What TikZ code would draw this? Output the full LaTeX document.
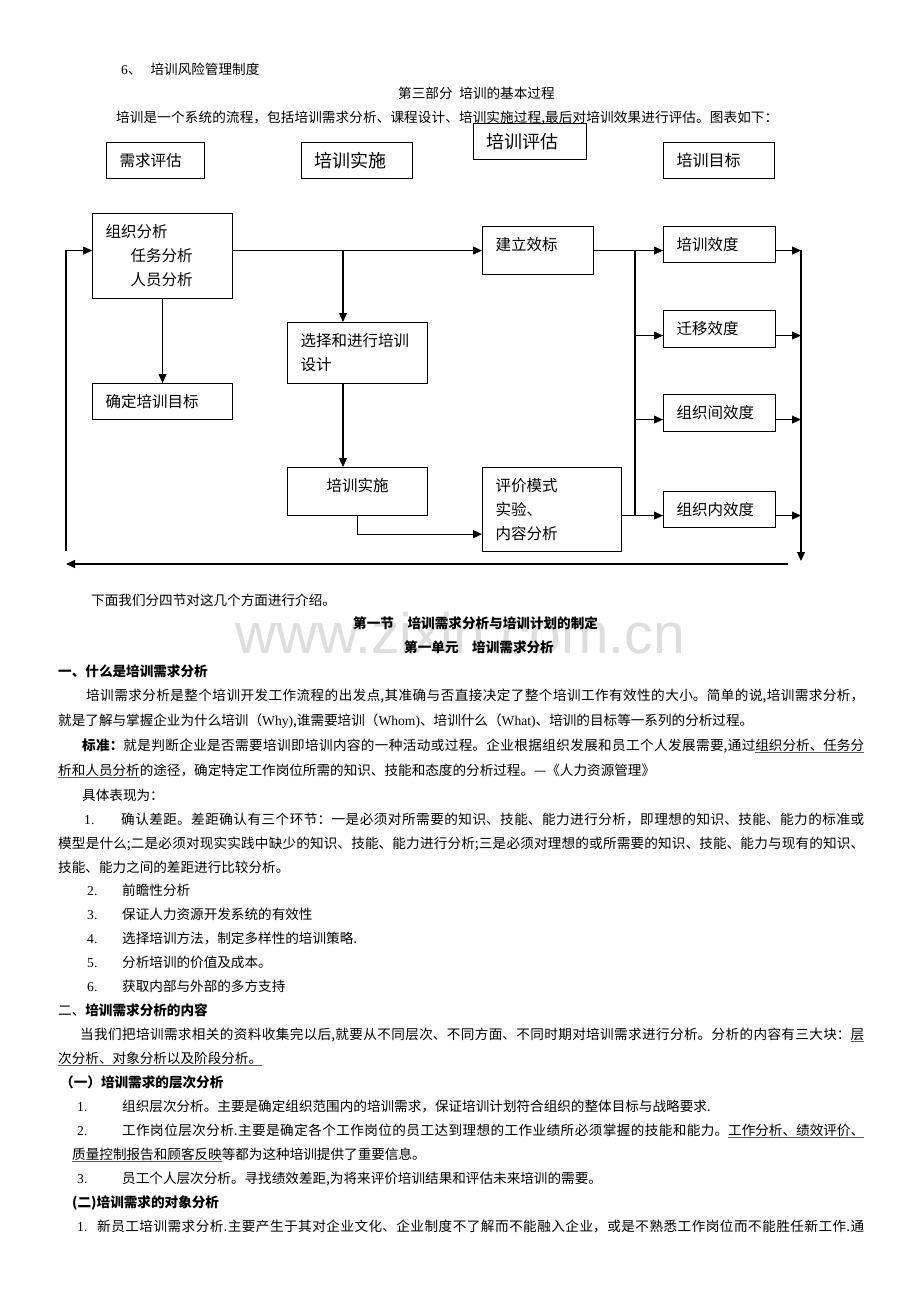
\documentclass[tikz,border=0pt]{standalone}
\usepackage{fontspec}
\setmainfont{Noto Sans CJK SC}
\newfontfamily\latfont{Liberation Serif}
\newfontfamily\wmfont{Liberation Sans}
\usetikzlibrary{arrows.meta}
\XeTeXlinebreaklocale "zh"
\XeTeXlinebreakskip=0pt plus 3pt minus 0.5pt
\definecolor{ulgray}{gray}{0.35}
\newsavebox\ulbox
\newcommand\ulin[1]{\sbox\ulbox{#1}\rlap{\color{ulgray}\rule[-2.5pt]{\wd\ulbox}{0.8pt}}\usebox\ulbox}
\newcommand\lat[1]{{\latfont #1}}
\newcommand\itemno[2]{\makebox[#1][l]{\latfont #2}}
\newcommand\jl[1]{\parfillskip=0pt\noindent #1\par}
\newcommand\bodyfont{\fontsize{13.6pt}{16pt}\selectfont}
\newcommand\boxfont{\fontsize{15.5pt}{24pt}\selectfont}
\tikzset{
  ln/.style={anchor=west, inner sep=0pt, text height=11pt, text depth=1pt, font=\bodyfont},
  full/.style={ln, text width=#1, align=justify},
  hd/.style={ln, font=\bodyfont\bfseries},
  box/.style={draw, line width=1.1pt, anchor=north west, inner xsep=13pt, inner ysep=0pt, align=left, font=\boxfont},
  arr/.style={line width=1.1pt, -{Triangle[length=9pt, width=8pt]}},
  line/.style={line width=1.1pt},
}
\begin{document}
\begin{tikzpicture}[x=1pt,y=-1pt]
  \fill[white] (0,0) rectangle (920,1302);
  \useasboundingbox (0,0) rectangle (920,1302);
  % watermark
  \node[text=black!13, font=\wmfont\fontsize{57pt}{57pt}\selectfont, inner sep=0pt] (wm) at (460,633) {www.zixin.com.cn};
  % text above the chart
  \node[ln] (t6) at (121,69) {\lat{6}、\hspace{9pt}培训风险管理制度};
  \node[ln] (part3) at (398,93) {第三部分\hspace{0.5em}培训的基本过程};
  \node[full=662pt] (intro) at (116,117) {\jl{培训是一个系统的流程，包括培训需求分析、课程设计、培训实施过程,最后对培训效果进行评估。图表如下：}};
  % header boxes
  \node[box, minimum width=98pt, minimum height=36pt, text width=72pt] (needs) at (106,142) {需求评估};
  \node[box, minimum width=111pt, minimum height=36pt, text width=85pt, font=\fontsize{18pt}{22pt}\selectfont] (implhd) at (301,142) {培训实施};
  \node[box, minimum width=113pt, minimum height=36pt, text width=87pt, font=\fontsize{18pt}{22pt}\selectfont] (evalhd) at (473,123) {培训评估};
  \node[box, minimum width=111pt, minimum height=36pt, text width=85pt, font=\fontsize{16pt}{20pt}\selectfont] (goalhd) at (663,142) {培训目标};
  % chart boxes
  \node[box, minimum width=140pt, minimum height=85pt, text width=114pt] (org) at (92,213) {组织分析\\\hspace*{25pt}任务分析\\\hspace*{25pt}人员分析};
  \node[box, minimum width=140pt, minimum height=36pt, text width=114pt] (goal) at (92,383) {确定培训目标};
  \node[box, minimum width=140pt, minimum height=61pt, text width=114pt] (design) at (287,322) {选择和进行培训\\设计};
  \node[box, minimum width=140pt, minimum height=48pt, text width=114pt, align=center] (impl) at (287,467) {\raisebox{6pt}[\height][\depth]{培训实施}};
  \node[box, minimum width=139pt, minimum height=84pt, text width=113pt] (eval) at (482,467) {评价模式\\实验、\\内容分析};
  \node[box, minimum width=111pt, minimum height=48pt, text width=85pt] (std) at (482,226) {\raisebox{6pt}[\height][\depth]{建立效标}};
  \node[box, minimum width=112pt, minimum height=36pt, text width=86pt] (eff1) at (663,226) {培训效度};
  \node[box, minimum width=112pt, minimum height=37pt, text width=86pt] (eff2) at (663,310) {迁移效度};
  \node[box, minimum width=112pt, minimum height=37pt, text width=86pt] (eff3) at (663,394) {组织间效度};
  \node[box, minimum width=112pt, minimum height=36pt, text width=86pt] (eff4) at (663,491) {组织内效度};
  % connectors
  \coordinate (br) at (343,250);
  \coordinate (bus) at (635,250);
  \coordinate (rbus) at (801,250);
  \coordinate (rend) at (801,561);
  \coordinate (backR) at (788,564);
  \coordinate (backL) at (66,564);
  \coordinate (loopB) at (66,551);
  \coordinate (r1) at ([yshift=-6pt]eff1.west);
  \coordinate (r2) at ([yshift=-6.5pt]eff2.west);
  \coordinate (r3) at ([yshift=-6.5pt]eff3.west);
  \coordinate (r4) at ([yshift=-6pt]eff4.west);
  \draw[arr] (org.east |- std.west) -- (std.west);
  \draw[arr] (br) -- (br |- design.north);
  \draw[arr] (org.south) -- (goal.north);
  \draw[arr] (br |- design.south) -- (br |- impl.north);
  \draw[arr] (impl.south) |- ([yshift=18pt]eval.south west);
  \draw[arr] (std.east) -- (std.east -| eff1.west);
  \draw[line] (bus) -- (bus |- r4);
  \draw[arr] (bus |- r2) -- (r2);
  \draw[arr] (bus |- r3) -- (r3);
  \draw[arr] (eval.east |- r4) -- (r4);
  \foreach \i in {1,...,4}
    \draw[arr] (r\i -| eff\i.east) -- (r\i -| rbus);
  \draw[arr] (rbus) -- (rend);
  \draw[arr] (backR) -- (backL);
  \draw[arr] (loopB) |- (org.west |- std.west);
  % text below the chart
  \node[ln] (next) at (91,600) {下面我们分四节对这几个方面进行介绍。};
  \node[hd] (sec1) at (353,623) {第一节\quad 培训需求分析与培训计划的制定};
  \node[hd] (unit1) at (404,647) {第一单元\quad 培训需求分析};
  \node[hd] (h1) at (58,671) {一、什么是培训需求分析};
  \node[full=778pt] (p1a) at (86,695) {\jl{培训需求分析是整个培训开发工作流程的出发点,其准确与否直接决定了整个培训工作有效性的大小。简单的说,培训需求分析，}};
  \node[ln] (p1b) at (58,720) {就是了解与掌握企业为什么培训（\lat{Why)},谁需要培训（\lat{Whom)}、培训什么（\lat{What)}、培训的目标等一系列的分析过程。};
  \node[full=782pt] (p1c) at (82,745) {\jl{\textbf{标准：}就是判断企业是否需要培训即培训内容的一种活动或过程。企业根据组织发展和员工个人发展需要,通过\ulin{组织分析、任务分}}};
  \node[ln] (p1d) at (58,770) {\ulin{析和人员分析}的途径，确定特定工作岗位所需的知识、技能和态度的分析过程。—《人力资源管理》};
  \node[ln] (p2) at (82,795) {具体表现为：};
  \node[full=780pt] (i1a) at (84,819) {\jl{\itemno{37pt}{1.}确认差距。差距确认有三个环节：一是必须对所需要的知识、技能、能力进行分析，即理想的知识、技能、能力的标准或}};
  \node[full=806pt] (i1b) at (58,843) {\jl{模型是什么;二是必须对现实实践中缺少的知识、技能、能力进行分析;三是必须对理想的或所需要的知识、技能、能力与现有的知识、}};
  \node[ln] (i1c) at (58,867) {技能、能力之间的差距进行比较分析。};
  \node[ln] (i2) at (87,890) {\itemno{35pt}{2.}前瞻性分析};
  \node[ln] (i3) at (87,914) {\itemno{35pt}{3.}保证人力资源开发系统的有效性};
  \node[ln] (i4) at (87,938) {\itemno{35pt}{4.}选择培训方法，制定多样性的培训策略.};
  \node[ln] (i5) at (87,962) {\itemno{35pt}{5.}分析培训的价值及成本。};
  \node[ln] (i6) at (87,986) {\itemno{35pt}{6.}获取内部与外部的多方支持};
  \node[ln] (h2) at (58,1010) {二、\textbf{培训需求分析的内容}};
  \node[full=784pt] (p3a) at (80,1034) {\jl{当我们把培训需求相关的资料收集完以后,就要从不同层次、不同方面、不同时期对培训需求进行分析。分析的内容有三大块：\ulin{层}}};
  \node[ln] (p3b) at (58,1058) {\ulin{次分析、对象分析以及阶段分析。}};
  \node[hd] (h3) at (60,1082) {（一）培训需求的层次分析};
  \node[ln] (j1) at (77,1106) {\itemno{45pt}{1.}组织层次分析。主要是确定组织范围内的培训需求，保证培训计划符合组织的整体目标与战略要求.};
  \node[full=787pt] (j2a) at (77,1130) {\jl{\itemno{45pt}{2.}工作岗位层次分析.主要是确定各个工作岗位的员工达到理想的工作业绩所必须掌握的技能和能力。\ulin{工作分析、绩效评价、}}};
  \node[ln] (j2b) at (72,1154) {\ulin{质量控制报告和顾客反映}等都为这种培训提供了重要信息。};
  \node[ln] (j3) at (77,1178) {\itemno{45pt}{3.}员工个人层次分析。寻找绩效差距,为将来评价培训结果和评估未来培训的需要。};
  \node[hd] (h4) at (72,1202) {(二)培训需求的对象分析};
  \node[full=787pt] (k1) at (77,1226) {\jl{\itemno{20pt}{1.}新员工培训需求分析.主要产生于其对企业文化、企业制度不了解而不能融入企业，或是不熟悉工作岗位而不能胜任新工作.通}};
\end{tikzpicture}
\end{document}
